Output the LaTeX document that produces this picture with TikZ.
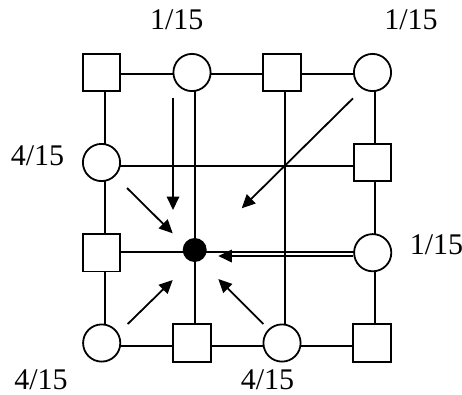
\documentclass[tikz,border=0pt]{standalone}
\usepackage{fontspec}
\setmainfont{Liberation Serif}
\usetikzlibrary{arrows.meta,backgrounds}
\begin{document}
\begin{tikzpicture}[x=1pt,y=-1pt,
  sq/.style={draw,fill=white,line width=1.8pt,minimum size=37.5pt,inner sep=0pt},
  ci/.style={circle,draw,fill=white,line width=1.8pt,minimum size=37.2pt,inner sep=0pt},
  dot/.style={circle,fill=black,minimum size=24pt,inner sep=0pt},
  gridline/.style={line width=1.8pt},
  arr/.style={line width=1.8pt,-{Triangle[length=13.5pt,width=12.5pt]}},
  lab/.style={anchor=base,inner sep=0pt,font=\fontsize{30}{36}\selectfont}]
\useasboundingbox (0,0) rectangle (462,394);
% nodes
\node[sq] (n00) at (101.5,72.5) {};
\node[ci] (n10) at (192,72.5) {};
\node[sq] (n20) at (282,72.5) {};
\node[ci] (n30) at (372.5,72.5) {};
\node[ci] (n01) at (101.5,162.5) {};
\node[sq] (n31) at (372.5,162.5) {};
\node[sq] (n02) at (101.5,252.7) {};
\node[dot] (n12) at (194.7,250) {};
\node[ci] (n32) at (372.7,252.7) {};
\node[ci] (n03) at (101.7,343) {};
\node[sq] (n13) at (192,343) {};
\node[ci] (n23) at (282,343) {};
\node[sq] (n33) at (372,343) {};
% line positions
\coordinate (vx0) at (105,0);
\coordinate (vx1) at (195,0);
\coordinate (vx2) at (285,0);
\coordinate (vx3) at (375,0);
\coordinate (hy0) at (0,74);
\coordinate (hy1) at (0,166);
\coordinate (hy2) at (0,252);
\coordinate (hy3) at (0,346);
\begin{pgfonlayer}{background}
\draw[gridline] (vx0 |- n00.center) -- (vx0 |- n03.center);
\draw[gridline] (vx1 |- n10.center) -- (vx1 |- n13.center);
\draw[gridline] (vx2 |- n20.center) -- (vx2 |- n23.center);
\draw[gridline] (vx3 |- n30.center) -- (vx3 |- n33.center);
\draw[gridline] (hy0 -| n00.center) -- (hy0 -| n30.center);
\draw[gridline] (hy1 -| n01.center) -- (hy1 -| n31.center);
\draw[gridline] (hy2 -| n02.center) -- (hy2 -| n32.center);
\draw[gridline] (hy3 -| n03.center) -- (hy3 -| n33.center);
\end{pgfonlayer}
% arrows
\coordinate (a1s) at (173,97.7);    \coordinate (a1e) at (173,210);
\coordinate (a2s) at (353,98.3);    \coordinate (a2e) at (241.7,208.3);
\coordinate (a3s) at (127,188);     \coordinate (a3e) at (172.7,233.3);
\coordinate (a4s) at (127.7,324);   \coordinate (a4e) at (172.7,280);
\coordinate (a5s) at (263.3,324);   \coordinate (a5e) at (218.3,279);
\coordinate (a6e) at (218.3,256);
\draw[arr] (a1s) -- (a1e);
\draw[arr] (a2s) -- (a2e);
\draw[arr] (a3s) -- (a3e);
\draw[arr] (a4s) -- (a4e);
\draw[arr] (a5s) -- (a5e);
\draw[arr] (n32.west |- a6e) -- (a6e);
% labels
\node[lab] (t1) at (176.7,29.3) {1/15};
\node[lab] (t2) at (411,29.3) {1/15};
\node[lab] (l1) at (37.5,165) {4/15};
\node[lab] (r1) at (436.5,254.5) {1/15};
\node[lab] (b1) at (41,389) {4/15};
\node[lab] (b2) at (267.5,389) {4/15};
\end{tikzpicture}
\end{document}
